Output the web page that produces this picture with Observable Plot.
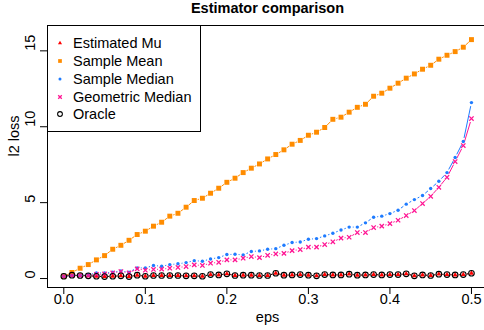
<!DOCTYPE html>
<html><head><meta charset="utf-8">
<script src="https://cdn.jsdelivr.net/npm/d3@7"></script>
<script src="https://cdn.jsdelivr.net/npm/@observablehq/plot@0.6"></script>
<style>
body{margin:0;background:#fff;font-family:"Liberation Sans",Arial,sans-serif;}
#wrap{position:relative;width:484px;height:330px;overflow:hidden;}
#legend{position:absolute;left:47px;top:25px;width:152px;height:105px;border:1px solid #000;background:#fff;font-size:14.5px;color:#000;}
.row{position:absolute;left:0;height:18px;line-height:18px;white-space:nowrap;}
.row svg{position:absolute;left:7px;top:4px;}
.row span{position:absolute;left:25px;top:0;}
</style></head>
<body><div id="wrap"><div id="chart"></div><div id="legend"></div></div>
<script>
const eps = [0,0.01,0.02,0.03,0.04,0.05,0.06,0.07,0.08,0.09,0.10,0.11,0.12,0.13,0.14,0.15,0.16,0.17,0.18,0.19,0.20,0.21,0.22,0.23,0.24,0.25,0.26,0.27,0.28,0.29,0.30,0.31,0.32,0.33,0.34,0.35,0.36,0.37,0.38,0.39,0.40,0.41,0.42,0.43,0.44,0.45,0.46,0.47,0.48,0.49,0.50];
const estimatedMu = [0.15,0.22,0.20,0.18,0.15,0.13,0.15,0.18,0.13,0.22,0.15,0.20,0.20,0.20,0.20,0.18,0.18,0.15,0.26,0.24,0.31,0.20,0.22,0.22,0.20,0.20,0.35,0.22,0.24,0.26,0.22,0.18,0.26,0.24,0.24,0.29,0.22,0.24,0.26,0.24,0.26,0.26,0.31,0.18,0.24,0.20,0.29,0.26,0.24,0.26,0.35];
const sampleMean = [0.15,0.40,0.68,0.92,1.23,1.51,1.93,2.19,2.52,2.90,3.12,3.45,3.71,4.11,4.30,4.70,5.14,5.29,5.62,5.95,6.34,6.61,6.98,7.27,7.55,7.88,8.17,8.48,8.85,9.10,9.44,9.64,9.95,10.49,10.63,10.96,11.28,11.48,12.01,12.21,12.54,12.87,13.20,13.48,13.79,14.05,14.45,14.71,14.95,15.24,15.74];
const sampleMedian = [0.15,0.20,0.20,0.25,0.37,0.37,0.42,0.50,0.42,0.70,0.70,0.86,0.81,0.92,0.97,1.05,1.18,1.14,1.29,1.38,1.58,1.60,1.56,1.78,1.82,1.93,1.97,2.19,2.37,2.41,2.59,2.63,2.81,2.98,3.20,3.39,3.39,3.67,4.04,4.11,4.28,4.50,4.90,5.20,5.47,5.93,6.41,6.98,7.97,9.03,11.59];
const geometricMedian = [0.15,0.20,0.20,0.20,0.28,0.30,0.37,0.46,0.37,0.64,0.55,0.60,0.62,0.68,0.73,0.79,0.90,0.86,1.01,1.07,1.23,1.23,1.34,1.45,1.38,1.53,1.62,1.66,1.84,1.91,2.07,2.07,2.24,2.42,2.66,2.72,3.03,3.03,3.36,3.45,3.62,3.84,4.15,4.48,4.94,5.42,6.01,6.67,7.71,8.76,10.54];
const oracle = [0.15,0.22,0.20,0.18,0.15,0.13,0.15,0.18,0.13,0.22,0.15,0.20,0.20,0.20,0.20,0.18,0.18,0.15,0.26,0.24,0.31,0.20,0.22,0.22,0.20,0.20,0.35,0.22,0.24,0.26,0.22,0.18,0.26,0.24,0.24,0.29,0.22,0.24,0.26,0.24,0.26,0.26,0.31,0.18,0.24,0.20,0.29,0.26,0.24,0.26,0.35];

const seriesNames = ["Estimated Mu","Sample Mean","Sample Median","Geometric Median","Oracle"];
const seriesValues = [estimatedMu, sampleMean, sampleMedian, geometricMedian, oracle];
const seriesColors = ["#ff0000","#ff8c00","#1e7bff","#ff1493","#000000"];
const xTicks = [0,0.1,0.2,0.3,0.4,0.5];
const xTickLabels = ["0.0","0.1","0.2","0.3","0.4","0.5"];
const yTicks = [0,5,10,15];
const yTickLabels = ["0","5","10","15"];
const xDomain = [-0.02, 0.516];
const yDomain = [-0.59, 16.67];
const FS = 14.5;

const styles = [
  {symbol:"triangle", fill:seriesColors[0], stroke:"none", r:1.9},
  {symbol:"square", fill:seriesColors[1], stroke:"none", r:2.8},
  {symbol:"circle", fill:seriesColors[2], stroke:"none", r:1.7},
  {symbol:"times", fill:"none", stroke:seriesColors[3], r:2.1, strokeWidth:1.3},
  {symbol:"circle", fill:"none", stroke:seriesColors[4], r:2.8, strokeWidth:1.1}
];

const marks = [];
marks.push(Plot.ruleX([xDomain[0]], {stroke:"#000", strokeWidth:1}));
marks.push(Plot.ruleY([yDomain[0], yDomain[1]], {stroke:"#000", strokeWidth:1}));
marks.push(Plot.axisX({ticks: xTicks, tickSize: 7, tickFormat: () => "", label: null}));
marks.push(Plot.axisY({ticks: yTicks, tickSize: 7, tickFormat: () => "", label: null}));
marks.push(Plot.text(xTicks, {x: d => d, text: (d,i) => xTickLabels[i], frameAnchor: "bottom", dy: 12, lineAnchor: "middle", fontSize: FS}));
marks.push(Plot.text(yTicks, {y: d => d, text: (d,i) => yTickLabels[i], frameAnchor: "left", dx: -17, rotate: -90, lineAnchor: "middle", fontSize: FS}));
marks.push(Plot.text(["eps"], {frameAnchor: "bottom", dy: 30, dx: 1.5, lineAnchor: "middle", fontSize: FS}));
marks.push(Plot.text(["l2 loss"], {frameAnchor: "left", dx: -33, rotate: -90, lineAnchor: "middle", fontSize: FS}));
marks.push(Plot.text(["Estimator comparison"], {frameAnchor: "top", dy: -17.5, dx: 1.5, lineAnchor: "middle", fontSize: FS, fontWeight: "bold"}));

seriesValues.forEach((vals, s) => {
  const segs = [];
  for (let i = 0; i + 1 < eps.length; i++) segs.push({x1: eps[i], y1: vals[i], x2: eps[i+1], y2: vals[i+1]});
  marks.push(Plot.arrow(segs, {x1:"x1", y1:"y1", x2:"x2", y2:"y2", stroke: seriesColors[s], strokeWidth: 1, headLength: 0, insetStart: 3.6, insetEnd: 3.6, strokeLinecap: "butt"}));
});
seriesValues.forEach((vals, s) => {
  const st = styles[s];
  const pts = eps.map((e, i) => ({eps: e, value: vals[i]}));
  marks.push(Plot.dot(pts, {x: "eps", y: "value", symbol: st.symbol, fill: st.fill, stroke: st.stroke, r: st.r, strokeWidth: st.strokeWidth || 1}));
});

const chart = Plot.plot({
  width: 484, height: 330,
  marginLeft: 47, marginRight: 0, marginTop: 25, marginBottom: 43,
  style: {fontFamily: '"Liberation Sans", Arial, sans-serif', fontSize: FS + "px", background: "#fff", color: "#000"},
  x: {domain: xDomain},
  y: {domain: yDomain},
  marks
});
document.getElementById("chart").appendChild(chart);

// legend
const legend = document.getElementById("legend");
const rowTops = [8, 26, 44, 62, 79];
const legendScale = [0.8, 0.75, 0.9, 0.85, 0.85];
seriesNames.forEach((name, s) => {
  const st = styles[s];
  const row = document.createElement("div");
  row.className = "row";
  row.style.top = rowTops[s] + "px";
  const svg = d3.create("svg").attr("width", 10).attr("height", 10);
  const sym = {triangle: d3.symbolTriangle, square: d3.symbolSquare, circle: d3.symbolCircle, times: d3.symbolTimes}[st.symbol];
  const rr = st.r * legendScale[s];
  svg.append("path").attr("transform", "translate(5,5)")
    .attr("d", d3.symbol(sym, Math.PI * rr * rr)())
    .attr("fill", st.fill).attr("stroke", st.stroke).attr("stroke-width", st.strokeWidth || 1);
  row.appendChild(svg.node());
  const sp = document.createElement("span");
  sp.textContent = name;
  row.appendChild(sp);
  legend.appendChild(row);
});
</script>
</body></html>
